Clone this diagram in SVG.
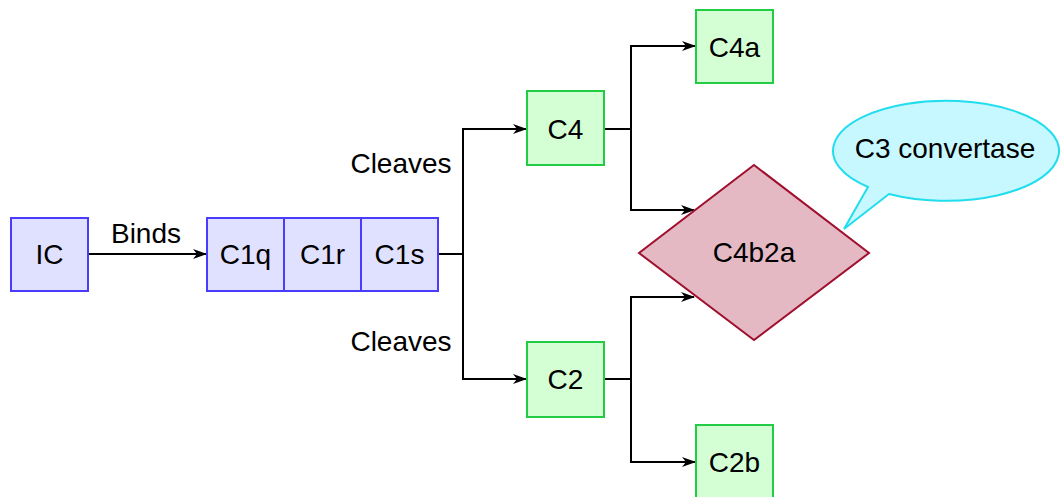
<svg xmlns="http://www.w3.org/2000/svg" width="1063" height="497" viewBox="0 0 1063 497">
<defs>
<style>
text{font-family:"Liberation Sans",Arial,sans-serif;font-size:28px;fill:#000;text-anchor:middle}
.blue{fill:#e0e0ff;stroke:#4a3cff;stroke-width:2}
.green{fill:#d4ffd4;stroke:#22cc44;stroke-width:2}
.con{fill:none;stroke:#000;stroke-width:2}
</style>
<marker id="arr" viewBox="0 0 14 10" refX="13" refY="5" markerWidth="14" markerHeight="10" markerUnits="userSpaceOnUse" orient="auto">
<path d="M0,0 L14,5 L0,10 L4,5 Z" fill="#000"/>
</marker>
</defs>
<rect width="1063" height="497" fill="#fff"/>
<g id="connectors">
<path class="con" d="M88,254 H206" marker-end="url(#arr)"/>
<path class="con" d="M438,254 H463 V129 H526" marker-end="url(#arr)"/>
<path class="con" d="M463,254 V379 H526" marker-end="url(#arr)"/>
<path class="con" d="M604,129 H631 V46 H695" marker-end="url(#arr)"/>
<path class="con" d="M631,129 V210 H694" marker-end="url(#arr)"/>
<path class="con" d="M604,379 H631 V297 H694" marker-end="url(#arr)"/>
<path class="con" d="M631,379 V462 H695" marker-end="url(#arr)"/>
<text x="146" y="243">Binds</text>
<text x="401" y="173">Cleaves</text>
<text x="401" y="351">Cleaves</text>
</g>
<g id="IC"><rect class="blue" x="11" y="218" width="77" height="73"/><text x="49.5" y="264">IC</text></g>
<g id="C1q"><rect class="blue" x="207" y="218" width="77" height="73"/><text x="245.5" y="264">C1q</text></g>
<g id="C1r"><rect class="blue" x="284" y="218" width="77" height="73"/><text x="322.5" y="264">C1r</text></g>
<g id="C1s"><rect class="blue" x="361" y="218" width="77" height="73"/><text x="399.5" y="264">C1s</text></g>
<g id="C4"><rect class="green" x="527" y="91" width="77" height="74"/><text x="565.5" y="139">C4</text></g>
<g id="C2"><rect class="green" x="527" y="342" width="77" height="75"/><text x="565.5" y="389">C2</text></g>
<g id="C4a"><rect class="green" x="696" y="10" width="77" height="73"/><text x="734.5" y="57">C4a</text></g>
<g id="C2b"><rect class="green" x="696" y="425" width="77" height="74"/><text x="734.5" y="472">C2b</text></g>
<g id="C4b2a"><path d="M754,165 L869,253 L754,340 L639,253 Z" fill="#e4b9c3" stroke="#a0102e" stroke-width="2"/><text x="754" y="262">C4b2a</text></g>
<g id="callout">
<path d="M868,187 A113,50 0 1 1 889,194 L844,229 Z" fill="#c8f8ff" stroke="#22ddee" stroke-width="2" stroke-linejoin="miter"/>
<text x="945" y="158">C3 convertase</text>
</g>
</svg>
